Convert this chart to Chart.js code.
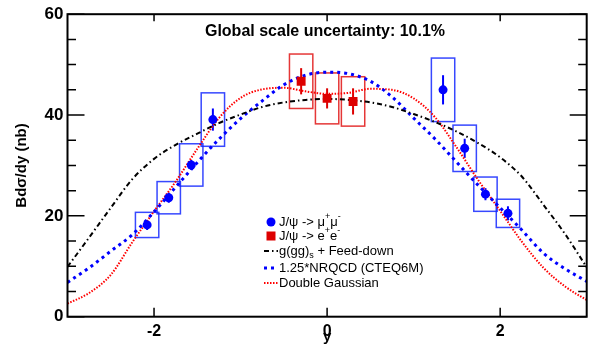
<!DOCTYPE html>
<html>
<head>
<meta charset="utf-8">
<script src="https://cdn.jsdelivr.net/npm/chart.js@4/dist/chart.umd.min.js"></script>
<style>
  html, body { margin: 0; padding: 0; background: #fff; }
  #wrap { width: 593px; height: 346px; }
</style>
</head>
<body>
<div id="wrap"><canvas id="jpsiChart"></canvas></div>
<script>
const FONT = "'Liberation Sans', Arial, Helvetica, sans-serif";

// J/psi -> mu+ mu- (forward / backward rapidity)
const muY = [-2.08, -1.83, -1.57, -1.32, 1.34, 1.59, 1.83, 2.09];
const muVal = [18.2, 23.6, 30.1, 39.1, 45.0, 33.4, 24.3, 20.5];
const muStat = [1.0, 1.0, 1.0, 2.2, 2.9, 1.9, 1.2, 1.4];
const muSys = [2.5, 3.2, 4.2, 5.3, 6.3, 4.6, 3.4, 2.8];

// J/psi -> e+ e- (mid rapidity)
const eeY = [-0.3, 0.0, 0.3];
const eeVal = [46.7, 43.3, 42.7];
const eeStat = [2.6, 2.0, 2.6];
const eeSys = [5.4, 5.05, 4.9];

// half width (in y) of the systematic boxes
const sysHalfWidth = 0.135;

// model curves
const curveY = [-3, -2.75, -2.5, -2.25, -2, -1.75, -1.5, -1.25, -1, -0.75, -0.5, -0.25, 0,
                0.25, 0.5, 0.75, 1, 1.25, 1.5, 1.75, 2, 2.25, 2.5, 2.75, 3];
const ggFeed = [9.9, 15.7, 21.6, 27.3, 31.3, 34.1, 36.3, 38.4, 40.1, 41.6, 42.5, 43.0, 43.2,
                43.0, 42.5, 41.6, 40.2, 38.6, 36.7, 34.4, 31.6, 27.8, 22.2, 16.4, 9.8];
const nrqcd = [6.8, 9.7, 13.0, 16.3, 20.8, 25.7, 30.6, 35.2, 39.3, 42.8, 46.0, 47.9, 48.5,
               48.2, 46.7, 43.6, 39.4, 35.2, 30.6, 26.0, 21.6, 17.2, 12.6, 9.5, 7.0];
const dblGauss = [2.6, 4.7, 8.3, 14.8, 20.9, 26.8, 33.3, 39.4, 43.4, 45.1, 45.4, 44.7, 44.2,
                  44.4, 45.2, 45.0, 43.3, 39.5, 33.5, 27.0, 21.0, 14.9, 9.7, 6.0, 3.3];

const xTicks = [-2, 0, 2];
const yTicks = [0, 20, 40, 60];

const toXY = (xs, ys) => xs.map((x, i) => ({ x: x, y: ys[i] }));

const rootStyle = {
  id: 'rootStyle',
  beforeDatasetsDraw(chart) {
    const { ctx, scales: { x, y } } = chart;
    ctx.save();
    // systematic boxes
    const boxes = [[muY, muVal, muSys, 'rgba(20,40,255,0.85)'], [eeY, eeVal, eeSys, 'rgba(225,20,20,0.85)']];
    boxes.forEach(([xs, vs, ss, col]) => {
      ctx.strokeStyle = col;
      ctx.lineWidth = 1.5;
      xs.forEach((xv, i) => {
        const x0 = x.getPixelForValue(xv - sysHalfWidth);
        const x1 = x.getPixelForValue(xv + sysHalfWidth);
        const y0 = y.getPixelForValue(vs[i] + ss[i]);
        const y1 = y.getPixelForValue(vs[i] - ss[i]);
        ctx.strokeRect(x0, y0, x1 - x0, y1 - y0);
      });
    });
    // statistical error bars
    const bars = [[muY, muVal, muStat, '#0000ff'], [eeY, eeVal, eeStat, '#dd0000']];
    bars.forEach(([xs, vs, es, col]) => {
      ctx.strokeStyle = col;
      ctx.lineWidth = 2;
      xs.forEach((xv, i) => {
        const px = x.getPixelForValue(xv);
        ctx.beginPath();
        ctx.moveTo(px, y.getPixelForValue(vs[i] + es[i]));
        ctx.lineTo(px, y.getPixelForValue(vs[i] - es[i]));
        ctx.stroke();
      });
    });
    ctx.restore();
  },
  afterDraw(chart) {
    const { ctx, chartArea: a, scales: { x, y } } = chart;
    ctx.save();
    // frame
    ctx.strokeStyle = '#000';
    ctx.lineWidth = 2;
    ctx.strokeRect(a.left, a.top, a.right - a.left, a.bottom - a.top);
    // inward ticks
    ctx.lineWidth = 1.5;
    ctx.beginPath();
    for (let v = 0; v <= 60; v += 5) {
      const py = y.getPixelForValue(v);
      const len = v % 20 === 0 ? 17 : 8.5;
      ctx.moveTo(a.left, py); ctx.lineTo(a.left + len, py);
      ctx.moveTo(a.right, py); ctx.lineTo(a.right - len, py);
    }
    xTicks.forEach(v => {
      const px = x.getPixelForValue(v);
      ctx.moveTo(px, a.bottom); ctx.lineTo(px, a.bottom - 9);
      ctx.moveTo(px, a.top); ctx.lineTo(px, a.top + 7);
    });
    ctx.stroke();

    // header text
    ctx.fillStyle = '#000';
    ctx.font = 'bold 16px ' + FONT;
    ctx.textAlign = 'center';
    ctx.textBaseline = 'middle';
    ctx.fillText('Global scale uncertainty: 10.1%', 325, 32);

    // legend
    const lx = 271, tx = 279;
    const rows = [222, 236, 251, 268, 283];
    ctx.textAlign = 'left';
    ctx.textBaseline = 'middle';
    const rich = (parts, px, py) => {
      parts.forEach(p => {
        if (p.sup || p.sub) {
          ctx.font = '9px ' + FONT;
          ctx.fillText(p.t, px, py + (p.sup ? -5 : 5));
        } else {
          ctx.font = '13px ' + FONT;
          ctx.fillText(p.t, px, py);
        }
        px += ctx.measureText(p.t).width;
      });
    };
    // markers
    ctx.fillStyle = '#0000ff';
    ctx.beginPath(); ctx.arc(lx, rows[0], 4.5, 0, Math.PI * 2); ctx.fill();
    ctx.fillStyle = '#dd0000';
    ctx.fillRect(lx - 4.5, rows[1] - 4.5, 9, 9);
    const seg = (col, w, dash, py) => {
      ctx.strokeStyle = col; ctx.lineWidth = w; ctx.setLineDash(dash);
      ctx.beginPath(); ctx.moveTo(264, py); ctx.lineTo(278, py); ctx.stroke();
      ctx.setLineDash([]);
    };
    seg('#000', 2, [5, 3, 1.5, 3], rows[2]);
    seg('#0000ff', 3, [3, 4], rows[3]);
    seg('#ff0000', 2, [1.5, 1.5], rows[4]);
    ctx.fillStyle = '#000';
    rich([{ t: 'J/\u03c8 -> \u03bc' }, { t: '+', sup: true }, { t: '\u03bc' }, { t: '-', sup: true }], tx, rows[0]);
    rich([{ t: 'J/\u03c8 -> e' }, { t: '+', sup: true }, { t: 'e' }, { t: '-', sup: true }], tx, rows[1]);
    rich([{ t: 'g(gg)' }, { t: 's', sub: true }, { t: ' + Feed-down' }], tx, rows[2]);
    rich([{ t: '1.25*NRQCD (CTEQ6M)' }], tx, rows[3]);
    rich([{ t: 'Double Gaussian' }], tx, rows[4]);
    ctx.restore();
  }
};

const curve = (label, ys, color, width, dash) => ({
  type: 'line',
  label: label,
  data: toXY(curveY, ys),
  borderColor: color,
  borderWidth: width,
  borderDash: dash,
  pointRadius: 0,
  fill: false,
  cubicInterpolationMode: 'monotone'
});

new Chart(document.getElementById('jpsiChart'), {
  type: 'scatter',
  data: {
    datasets: [
      {
        label: 'J/psi -> mu+mu-',
        data: toXY(muY, muVal),
        pointStyle: 'circle',
        pointRadius: 4.5,
        backgroundColor: '#0000ff',
        borderWidth: 0
      },
      {
        label: 'J/psi -> e+e-',
        data: toXY(eeY, eeVal),
        pointStyle: 'rect',
        pointRadius: 6.3,
        backgroundColor: '#dd0000',
        borderWidth: 0
      },
      curve('g(gg)s + Feed-down', ggFeed, '#000000', 2, [5, 3, 1.5, 3]),
      curve('1.25*NRQCD (CTEQ6M)', nrqcd, '#0000ff', 3, [3, 4]),
      curve('Double Gaussian', dblGauss, '#ff0000', 2, [1.5, 1.5])
    ]
  },
  options: {
    responsive: true,
    maintainAspectRatio: false,
    animation: false,
    layout: { padding: { top: 12.7, right: 4, left: 0, bottom: 0 } },
    plugins: { legend: { display: false }, tooltip: { enabled: false } },
    scales: {
      x: {
        type: 'linear',
        min: -3,
        max: 3,
        afterBuildTicks: s => { s.ticks = xTicks.map(v => ({ value: v })); },
        afterFit: s => { s.height = 29.3; },
        grid: { display: false, drawTicks: false },
        border: { display: false },
        ticks: { color: '#000', padding: 5, font: { family: FONT, size: 16, weight: 'bold' } },
        title: { display: true, text: 'y', color: '#000', padding: 0, font: { family: FONT, size: 15, weight: 'bold' } }
      },
      y: {
        min: 0,
        max: 60,
        afterBuildTicks: s => { s.ticks = yTicks.map(v => ({ value: v })); },
        afterFit: s => { s.width = 67.5; },
        grid: { display: false, drawTicks: false },
        border: { display: false },
        ticks: { color: '#000', padding: 4, font: { family: FONT, size: 17, weight: 'bold' } },
        title: { display: true, text: 'Bd\u03c3/dy (nb)', color: '#000', padding: { top: 13, bottom: 0 }, font: { family: FONT, size: 15, weight: 'bold' } }
      }
    }
  },
  plugins: [rootStyle]
});
</script>
</body>
</html>
